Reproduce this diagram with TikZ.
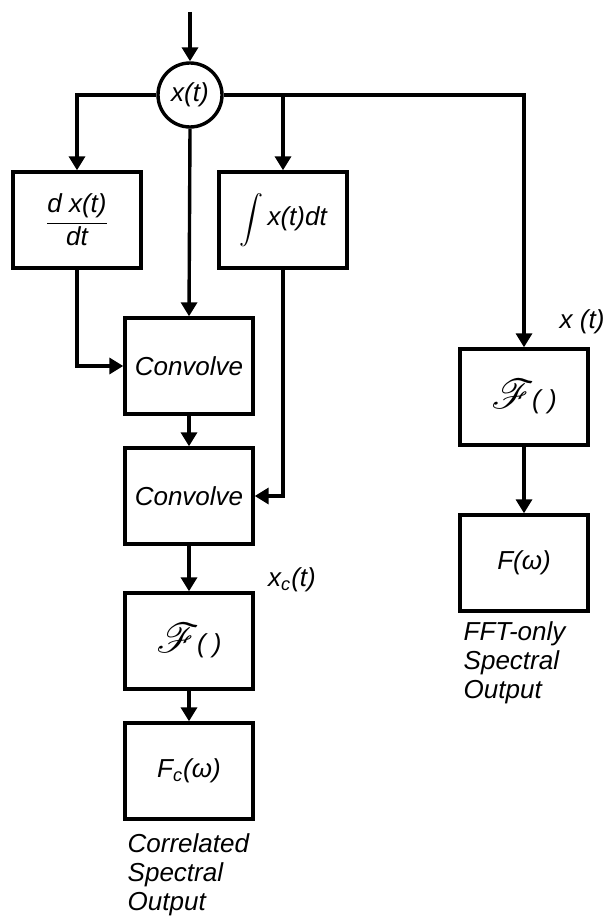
\documentclass[tikz,border=0pt]{standalone}
\usepackage{amsmath}
\usepackage{mathrsfs}
\usepackage{fontspec}
\setmainfont{Liberation Sans}
\usetikzlibrary{arrows.meta}
\newcommand{\bodyfont}{\fontsize{13}{14.5}\selectfont\itshape}
\newcommand{\fourier}{{\fontsize{20}{20}\selectfont$\mathscr{F}$}\kern-1pt( )}
\tikzset{
    blockbox/.style={draw,minimum width=64pt,minimum height=48pt,inner sep=2pt,font=\bodyfont},
    sigcirc/.style={draw,circle,minimum size=32pt,inner sep=0pt,font=\bodyfont},
    flow/.style={draw,-{Triangle[width=8pt,length=7pt]}},
    caption/.style={align=left,anchor=north west,inner sep=0pt,font=\bodyfont},
    siglabel/.style={inner sep=0pt,font=\bodyfont},
}

\begin{document}
\begin{tikzpicture}[x=0.5pt,y=-0.5pt,line width=1.7pt]
    \useasboundingbox (0,0) rectangle (607,924);
    \coordinate (in) at (190,12);
    \node[sigcirc] (xt) at (190,95) {x(t)};
    \node[blockbox] (deriv) at (77,220) {$\dfrac{\textit{d x(t)}}{\textit{dt}}$};
    \node[blockbox] (integ) at (283,220) {$\displaystyle\int$\,x(t)dt};
    \node[blockbox] (conva) at (189,366) {Convolve};
    \node[blockbox] (convb) at (189,496) {Convolve};
    \node[blockbox] (ftc) at (189,641) {\fourier};
    \node[blockbox] (fc) at (189,771) {F$_{\textit{c}}$(ω)};
    \node[blockbox] (ftr) at (524,397) {\fourier};
    \node[blockbox] (fr) at (524,563) {F(ω)};

    % signal labels
    \node[siglabel] (xclab) at (292,580) {x$_{\textit{c}}$(t)};
    \node[siglabel,anchor=west] (xrlab) at (558,322) {x (t)};

    % output captions
    \node[caption] (capc) at (126,832) {Correlated\\Spectral\\Output};
    \node[caption] (capr) at (462,620) {FFT-only\\Spectral\\Output};

    \draw[flow] (in) -- (xt.north);
    \draw[flow] (xt.west) -| (deriv.north);
    \draw[flow] (xt.east) -| (ftr.north);
    \draw[flow] (xt.east -| integ.north) -- (integ.north);
    \draw[flow] (xt.south) -- (conva.north);
    \draw[flow] (deriv.south) |- (conva.west);
    \draw[flow] (integ.south) |- (convb.east);
    \draw[flow] (conva.south) -- (convb.north);
    \draw[flow] (convb.south) -- (ftc.north);
    \draw[flow] (ftc.south) -- (fc.north);
    \draw[flow] (ftr.south) -- (fr.north);
\end{tikzpicture}
\end{document}
